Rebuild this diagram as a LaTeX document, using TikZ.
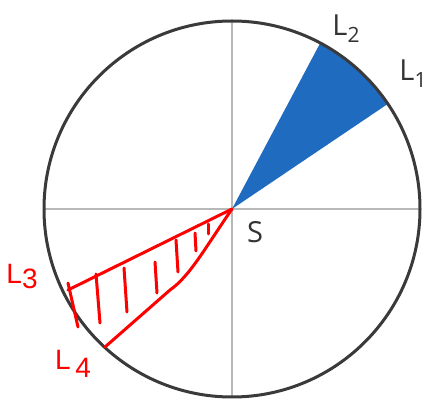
\documentclass[tikz,border=0pt]{standalone}
\usepackage{fontspec}
\setmainfont{Open Sans}
\newfontfamily\penfont{Liberation Sans}
\usetikzlibrary{calc}
\definecolor{paper}{HTML}{FFFFFF}
\definecolor{rim}{HTML}{3A3A3A}
\definecolor{axisGrey}{HTML}{B8B8B8}
\definecolor{beam}{HTML}{1E6BC0}
\definecolor{ink}{HTML}{333333}
\definecolor{pen}{HTML}{FF0000}
\newcommand{\sub}[1]{\raisebox{-7pt}{\fontsize{21}{21}\selectfont #1}}

\begin{document}
\begin{tikzpicture}[x=1pt, y=-1pt, text=ink,
    lab/.style={font=\fontsize{29}{29}\selectfont, inner sep=0pt},
    hand/.style={font=\penfont\fontsize{28}{28}\selectfont, text=pen, inner sep=0pt},
    stroke/.style={draw=pen, line width=3pt, line cap=round, line join=round}]
  % canvas
  \useasboundingbox[fill=paper] (0,0) rectangle (426,403);

  % ---------------- centre and rim points
  \coordinate (S) at (232,209);
  \coordinate (top) at ($(S)+(0,-188)$);
  \coordinate (bot) at ($(S)+(0,188)$);
  \coordinate (lft) at ($(S)+(-188,0)$);
  \coordinate (rgt) at ($(S)+(188,0)$);
  \coordinate (L1) at ($(S)+(-34:187)$);
  \coordinate (L2) at ($(S)+(-62:187)$);
  \coordinate (L3) at (68,290);
  \coordinate (L4) at (105,347);

  % ---------------- axes
  \draw[axisGrey, line width=1.4pt] (top) -- (bot);
  \draw[axisGrey, line width=1.4pt] (lft) -- (rgt);

  % ---------------- blue sector between L1 and L2
  \fill[beam] (S) -- (L1) arc[start angle=-34, end angle=-62, radius=187] -- cycle;

  % ---------------- rim
  \draw[rim, line width=3pt] (S) circle[radius=188];

  % ---------------- red hatched wedge between L3 and L4
  \draw[stroke] (S) -- (L3);
  \draw[stroke] (S) .. controls (205,248) and (190,276) .. (170,290) -- (L4);
  \foreach \xa/\ya/\xb/\yb in {68/283/78/327, 96/274/100/323, 124/268/127/312,
                                155/262/157/293, 176/240/178/272, 195/233/196/251, 208/224/208/234} {
    \draw[stroke] (\xa,\ya) -- (\xb,\yb);
  }

  % ---------------- labels
  \node[lab] (tL2) at (346,29) {L\sub{2}};
  \node[lab] (tL1) at (413,74) {L\sub{1}};
  \node[lab] (tS) at (255,232) {S};
  \node[hand] (tL3) at (22,277) {L\raisebox{-5pt}{3}};
  \node[hand] (tL4) at (73,364) {L\,\raisebox{-8pt}{4}};
\end{tikzpicture}
\end{document}
